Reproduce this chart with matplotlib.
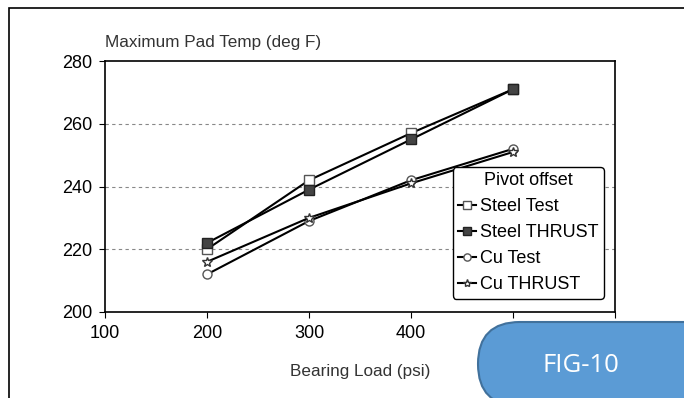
import matplotlib.pyplot as plt
from matplotlib.patches import FancyBboxPatch, Rectangle

plt.rcParams['font.family'] = ['Liberation Sans', 'DejaVu Sans']

load = [200, 300, 400, 500]
steel_test = [220, 242, 257, 271]
steel_thrust = [222, 239, 255, 271]
cu_test = [212, 229, 242, 252]
cu_thrust = [216, 230, 241, 251]

xticks = [100, 200, 300, 400, 500, 600]
xlabels = ["100", "200", "300", "400", "", ""]
yticks = [200, 220, 240, 260, 280]

W, H = 684, 398
fig = plt.figure(figsize=(W / 100, H / 100), dpi=100)

# outer frame of the slide
fig.patches.append(Rectangle((9 / W, -0.1), 1.2, (390 / H) + 0.1, transform=fig.transFigure,
                             fill=False, edgecolor="black", linewidth=1.2))

ax = fig.add_axes([105 / W, (H - 312) / H, 510 / W, 251 / H])
ax.plot(load, steel_test, color="black", lw=1.5, marker="s", ms=6.5, mfc="white", mec="#555555", label="Steel Test")
ax.plot(load, steel_thrust, color="black", lw=1.5, marker="s", ms=6.5, mfc="#444444", mec="#222222", label="Steel THRUST")
ax.plot(load, cu_test, color="black", lw=1.5, marker="o", ms=6.5, mfc="white", mec="#555555", label="Cu Test")
ax.plot(load, cu_thrust, color="black", lw=1.5, marker="*", ms=7.5, mfc="white", mec="#333333", label="Cu THRUST")

ax.set_xlim(100, 600)
ax.set_ylim(200, 280)
ax.set_xticks(xticks)
ax.set_xticklabels(xlabels)
ax.set_yticks(yticks)
ax.tick_params(labelsize=13, direction="out", length=4, pad=5)
for y in [220, 240, 260]:
    ax.axhline(y, color="#888888", lw=0.8, ls=(0, (3, 3)), zorder=0)
for s in ax.spines.values():
    s.set_linewidth(1.2)

ax.text(0.0, 1.045, "Maximum Pad Temp (deg F)", transform=ax.transAxes, fontsize=12.3,
        color="#333333", ha="left", va="bottom")
ax.set_xlabel("Bearing Load (psi)", fontsize=12.3, color="#333333", labelpad=16)

leg = ax.legend(title="Pivot offset", loc="upper left", bbox_to_anchor=(0.682, 0.578),
                fontsize=13, title_fontsize=13, frameon=True, fancybox=True,
                edgecolor="black", framealpha=1, handlelength=1.0, handletextpad=0.2,
                borderpad=0.3, labelspacing=0.5, borderaxespad=0, markerscale=0.8)
leg.get_frame().set_linewidth(1.0)

# FIG-10 badge on top
ov = fig.add_axes([0, 0, 1, 1], zorder=5)
ov.set_xlim(0, W)
ov.set_ylim(H, 0)
ov.axis("off")
ov.add_patch(FancyBboxPatch((520, 364), 200, 0, boxstyle="round,pad=42",
                            facecolor="#5B9BD5", edgecolor="#41719C", linewidth=1.5))
ov.text(581, 365, "FIG-10", color="white", fontsize=18.5, ha="center", va="center",
        family=["Open Sans", "DejaVu Sans"])

fig.savefig("out.png", dpi=100)
